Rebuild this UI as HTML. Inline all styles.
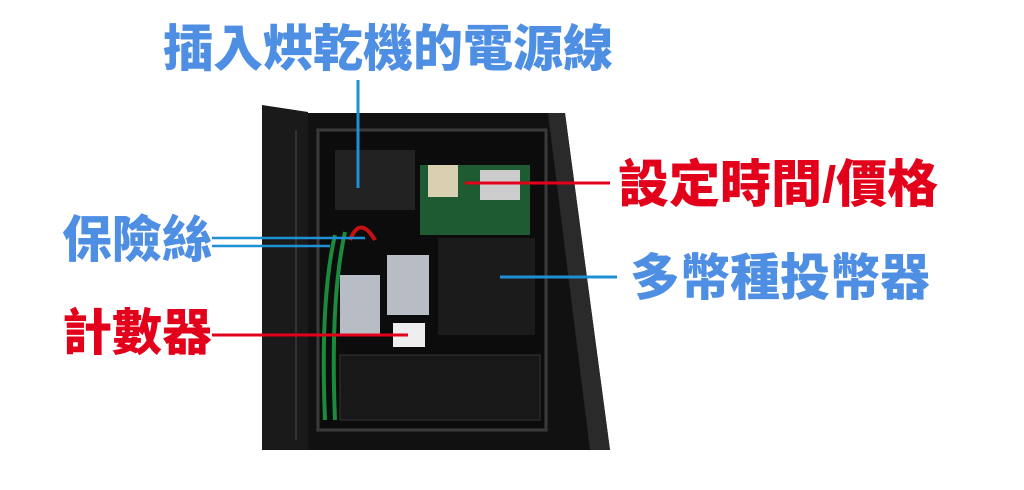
<!DOCTYPE html>
<html><head><meta charset="utf-8"><style>
html,body{margin:0;padding:0;background:#fff;width:1024px;height:490px;overflow:hidden}
.t{position:absolute;font-family:"Liberation Sans","Noto Sans CJK TC",sans-serif;font-weight:900;white-space:nowrap;line-height:1}
.b{color:#4f8fe3}.r{color:#e3001b}
</style></head><body>
<svg width="1024" height="490" style="position:absolute;left:0;top:0">
<polygon points="300,113 565,113 610,450 300,450" fill="#111"/>
<polygon points="548,113 565,113 610,450 590,450" fill="#2a2a2a"/>
<polygon points="262,105 308,112 308,450 262,450" fill="#1a1a1a"/>
<line x1="296" y1="130" x2="296" y2="440" stroke="#333" stroke-width="2"/>
<rect x="318" y="130" width="228" height="300" fill="#0c0c0c" stroke="#3a3a3a" stroke-width="3"/>
<rect x="335" y="150" width="80" height="60" fill="#222"/>
<rect x="420" y="165" width="110" height="70" fill="#1e5a32"/>
<rect x="428" y="165" width="30" height="32" fill="#d8d0b0"/>
<rect x="480" y="170" width="40" height="30" fill="#ccc"/>
<rect x="438" y="238" width="97" height="97" fill="#1b1b1b"/>
<rect x="340" y="275" width="40" height="60" fill="#b8bcc4"/>
<rect x="387" y="255" width="42" height="60" fill="#b8bcc4"/>
<rect x="393" y="323" width="32" height="24" fill="#eee"/>
<rect x="340" y="355" width="200" height="65" fill="#181818" stroke="#333"/>
<path d="M335,235 Q320,300 325,420" stroke="#1c8a3c" stroke-width="4" fill="none"/>
<path d="M345,232 Q330,300 335,420" stroke="#1c8a3c" stroke-width="4" fill="none"/>
<path d="M350,240 Q360,215 375,240" stroke="#c81010" stroke-width="4" fill="none"/>
<line x1="358" y1="80" x2="358" y2="188" stroke="#1f8fd6" stroke-width="3"/>
<line x1="212" y1="238" x2="365" y2="238" stroke="#1f8fd6" stroke-width="2.5"/>
<line x1="212" y1="246" x2="330" y2="246" stroke="#1f8fd6" stroke-width="2.5"/>
<line x1="212" y1="335" x2="408" y2="335" stroke="#e3001b" stroke-width="3"/>
<line x1="465" y1="183" x2="610" y2="183" stroke="#e3001b" stroke-width="3"/>
<line x1="500" y1="277" x2="617" y2="277" stroke="#1f8fd6" stroke-width="3"/>
</svg>
<div class="t b" style="left:163px;top:24px;font-size:50px">插入烘乾機的電源線</div>
<div class="t r" style="left:618px;top:159px;font-size:51px">設定時間/價格</div>
<div class="t b" style="left:630px;top:253px;font-size:50px">多幣種投幣器</div>
<div class="t b" style="left:62px;top:215px;font-size:50px">保險絲</div>
<div class="t r" style="left:62px;top:308px;font-size:50px">計數器</div>
</body></html>
